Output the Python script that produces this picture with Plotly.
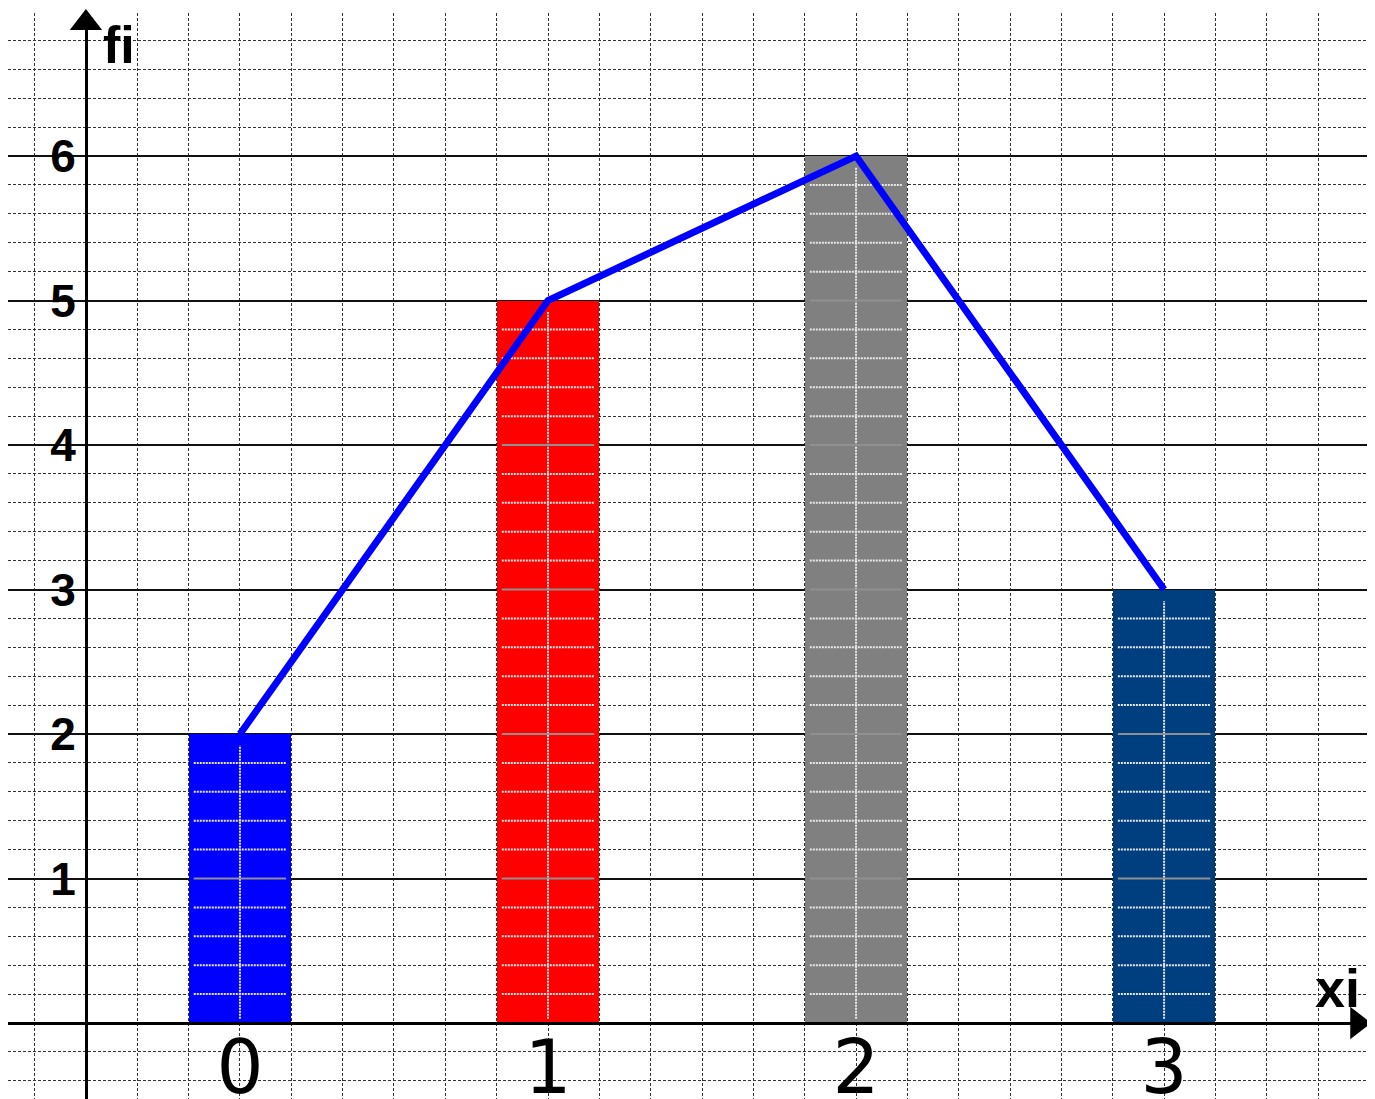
import plotly.graph_objects as go

# ---- data ----
xi = [0, 1, 2, 3]
fi = [2, 5, 6, 3]
bar_colors = ["#0000FF", "#FF0000", "#808080", "#003F7F"]
x_tick_labels = ["0", "1", "2", "3"]
y_tick_vals = [1, 2, 3, 4, 5, 6]
y_tick_labels = ["1", "2", "3", "4", "5", "6"]

# ---- geometry / styles ----
XMIN, XMAX = -0.753, 3.662
YMIN, YMAX = -0.526, 6.99
YAXIS_X = -0.5
BAR_W = 1 / 3
GRID_DASH = "3px,2px"

fig = go.Figure()

fig.add_trace(go.Bar(
    x=xi, y=fi, width=BAR_W, marker=dict(color=bar_colors, line=dict(width=0)),
    showlegend=False, hoverinfo="skip",
))

# light grid lines seen through the bars
wx, wy, gx, gy = [], [], [], []
for x, f in zip(xi, fi):
    for k in range(1, int(round(f * 5))):
        lvl = k / 5
        seg_x = [x - BAR_W * 0.45, x + BAR_W * 0.45, None]
        if k % 5 == 0:
            gx += seg_x
            gy += [lvl, lvl, None]
        else:
            wx += seg_x
            wy += [lvl, lvl, None]
    wx += [x, x, None]
    wy += [0.03, f - 0.08, None]

fig.add_trace(go.Scatter(x=wx, y=wy, mode="lines",
                         line=dict(color="#E8E8E8", width=2, dash="2px,1px"),
                         showlegend=False, hoverinfo="skip"))
fig.add_trace(go.Scatter(x=gx, y=gy, mode="lines",
                         line=dict(color="#909090", width=2),
                         showlegend=False, hoverinfo="skip"))

# frequency polygon
fig.add_trace(go.Scatter(x=xi, y=fi, mode="lines",
                         line=dict(color="#0000FF", width=7),
                         showlegend=False, hoverinfo="skip"))

# axis arrow heads
fig.add_trace(go.Scatter(x=[YAXIS_X], y=[YMAX - 0.07], mode="markers",
                         marker=dict(symbol="triangle-up", size=28, color="black"),
                         cliponaxis=False, showlegend=False, hoverinfo="skip"))
fig.add_trace(go.Scatter(x=[XMAX - 0.035], y=[0], mode="markers",
                         marker=dict(symbol="triangle-right", size=28, color="black"),
                         cliponaxis=False, showlegend=False, hoverinfo="skip"))

fig.update_layout(
    width=1367, height=1091,
    margin=dict(l=0, r=7, t=5, b=0, autoexpand=False),
    paper_bgcolor="white", plot_bgcolor="white",
    bargap=0,
    xaxis=dict(
        range=[XMIN, XMAX], anchor="free", automargin=False,
        position=(0 - YMIN) / (YMAX - YMIN),
        tickvals=xi, ticktext=x_tick_labels, ticks="",
        tickfont=dict(family="DejaVu Sans", size=74, color="black"),
        ticklabelstandoff=-21,
        showgrid=True, gridcolor="#333333", gridwidth=1.2, griddash=GRID_DASH,
        minor=dict(dtick=1 / 6, tick0=0, showgrid=True, gridcolor="#333333",
                   gridwidth=1.2, griddash=GRID_DASH, ticks=""),
        showline=True, linecolor="black", linewidth=3,
        zeroline=False,
    ),
    yaxis=dict(
        range=[YMIN, YMAX], anchor="free", automargin=False,
        position=(YAXIS_X - XMIN) / (XMAX - XMIN),
        tickvals=y_tick_vals, ticktext=y_tick_labels, ticks="",
        tickfont=dict(family="Liberation Sans", size=46, color="black", weight="bold"),
        showgrid=True, gridcolor="#111111", gridwidth=1.5,
        minor=dict(dtick=0.2, tick0=0, showgrid=True, gridcolor="#333333",
                   gridwidth=1.2, griddash=GRID_DASH, ticks=""),
        showline=True, linecolor="black", linewidth=3,
        zeroline=False,
    ),
    annotations=[
        dict(text="fi", x=YAXIS_X + 0.05, y=6.77, xref="x", yref="y",
             xanchor="left", yanchor="middle", showarrow=False,
             font=dict(family="Liberation Sans", size=52, color="black", weight="bold")),
        dict(text="xi", x=XMAX - 0.02, y=0.24, xref="x", yref="y",
             xanchor="right", yanchor="middle", showarrow=False,
             font=dict(family="Liberation Sans", size=54, color="black", weight="bold")),
    ],
)

fig.write_html("out.html")
